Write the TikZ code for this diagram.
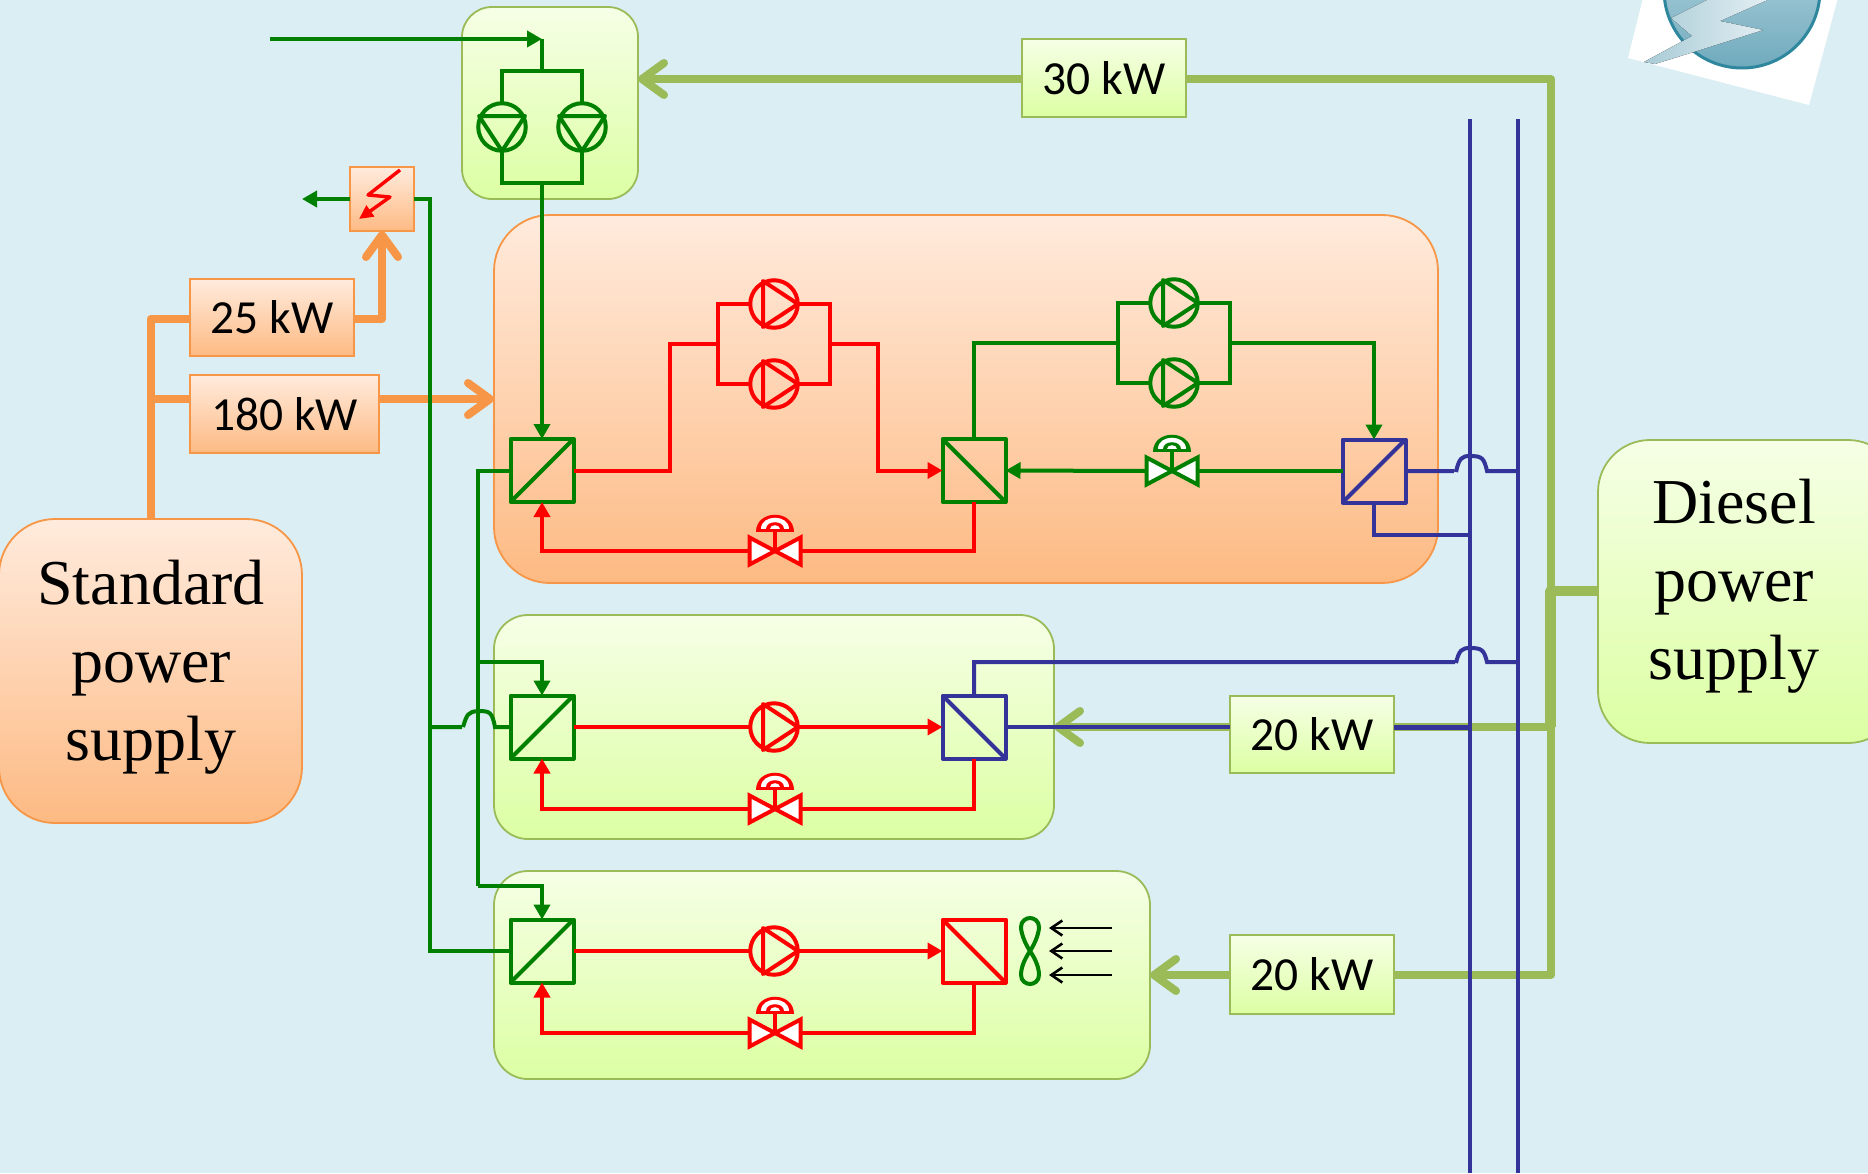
\documentclass[tikz,border=0pt]{standalone}
\usepackage{fontspec}
\setmainfont{Liberation Serif}
\newfontfamily\kwfont{Carlito}
\usetikzlibrary{arrows.meta,calc,shapes.geometric}
\definecolor{bgc}{HTML}{DBEEF4}
\definecolor{orl}{HTML}{F79646}
\definecolor{oli}{HTML}{9BBB59}
\definecolor{gnl}{HTML}{008000}
\definecolor{rdl}{HTML}{FF0000}
\definecolor{blu}{HTML}{333399}
\definecolor{otop}{HTML}{FFEBDD}
\definecolor{obot}{HTML}{FDBA83}
\definecolor{gtop}{HTML}{F6FFE6}
\definecolor{gbot}{HTML}{DCFFA3}
\definecolor{logotop}{HTML}{C4DEE7}
\definecolor{logobot}{HTML}{6FAABD}
\definecolor{logoedge}{HTML}{2F879E}
\definecolor{boltl}{HTML}{A8CBD6}
\definecolor{boltr}{HTML}{EEF5F8}
\tikzset{
  orpanel/.style={draw=orl,line width=1.8pt,top color=otop,bottom color=obot,inner sep=0pt,outer sep=0pt},
  grpanel/.style={draw=oli,line width=1.8pt,top color=gtop,bottom color=gbot,inner sep=0pt,outer sep=0pt},
  kwbox/.style={font=\kwfont\fontsize{47.5}{56}\selectfont,text=black},
  bigtext/.style={font=\fontsize{64}{78}\selectfont,align=center,text=black,inner sep=0pt},
  pipe/.style={line width=4pt,line join=miter},
  tipf/.style={-{Triangle[length=15pt,width=16pt]}},
  power/.style={line width=8pt,line join=round},
  tipo/.style={-{Straight Barb[length=22pt,width=32pt,round]}},
  hxnode/.style={draw=#1,line width=4pt,minimum size=63pt,inner sep=0pt,outer sep=0pt,line join=round},
  pumpnode/.style={draw=#1,circle,line width=4pt,minimum size=47.5pt,inner sep=0pt,outer sep=0pt},
  valvenode/.style={minimum width=52pt,minimum height=26pt,inner sep=0pt,outer sep=0pt},
}
\newcommand{\kwt}[1]{\raisebox{-1pt}{#1}}
\newcommand{\panelbox}[7]{%
  \pgfmathsetmacro\pw{#4-#2}\pgfmathsetmacro\ph{#5-#3}%
  \node[#6,minimum width=\pw pt,minimum height=\ph pt] (#1) at ({(#2+#4)/2},{(#3+#5)/2}) {#7};}
\newcommand{\pumpright}[4]{%
  \node[pumpnode=#4] (#1) at (#2,#3) {};
  \draw[#4,line width=4pt,line join=round] ([shift={(-11,-23)}]#1.center) -- ([shift={(-11,23)}]#1.center) -- ([shift={(24,0)}]#1.center) -- cycle;}
\newcommand{\pumpdown}[4]{%
  \node[pumpnode=#4] (#1) at (#2,#3) {};
  \draw[#4,line width=4pt,line join=round] ([shift={(-23,-11)}]#1.center) -- ([shift={(23,-11)}]#1.center) -- ([shift={(0,24)}]#1.center) -- cycle;}
\newcommand{\valveat}[4]{%
  \node[valvenode] (#1) at (#2,#3) {};
  \begin{scope}[shift={(#2,#3)}]
    \draw[#4,fill=white,line width=4pt,miter limit=10] (-25.5,-13.5) -- (0,0) -- (-25.5,13.5) -- cycle;
    \draw[#4,fill=white,line width=4pt,miter limit=10] (25.5,-13.5) -- (0,0) -- (25.5,13.5) -- cycle;
    \draw[#4,line width=4pt] (0,0) -- (0,-20);
    \fill[#4] (-19,-19) .. controls (-19,-42) and (19,-42) .. (19,-19) -- cycle;
    \fill[white] (-14,-22) .. controls (-14,-37) and (14,-37) .. (14,-22) -- cycle;
    \fill[#4] (-9,-22) .. controls (-9,-31) and (9,-31) .. (9,-22) -- cycle;
    \fill[white] (-5,-22) .. controls (-5,-27) and (5,-27) .. (5,-22) -- cycle;
  \end{scope}}
\begin{document}
\begin{tikzpicture}[x=1pt,y=-1pt]
\clip (0,0) rectangle (1868,1173);
\fill[bgc] (0,0) rectangle (1868,1173);
% logo
\fill[white] (1628,58) -- (1809,105) -- (1840,-10) -- (1645,-10) -- cycle;
\shade[top color=logotop,bottom color=logobot] (1742,-10) circle (78pt);
\draw[color=logoedge,line width=3pt] (1742,-10) circle (78pt);
\fill[left color=boltl,right color=boltr] (1644,62) -- (1692,36) -- (1671,18) -- (1707,0) -- (1790,-10) -- (1720,21) -- (1763,30) -- (1700,50) -- (1655,64) -- cycle;
% panels
\panelbox{ptop}{462}{7}{638}{199}{grpanel,rounded corners=30pt}{}
\panelbox{pmain}{494}{215}{1438}{583}{orpanel,rounded corners=56pt}{}
\panelbox{pmid}{494}{615}{1054}{839}{grpanel,rounded corners=34pt}{}
\panelbox{plow}{494}{871}{1150}{1079}{grpanel,rounded corners=34pt}{}
\panelbox{std}{-1}{519}{302}{823}{orpanel,rounded corners=56pt}{}
\panelbox{die}{1598}{440}{1900}{743}{grpanel,rounded corners=52pt}{}
\node[bigtext] (stdt) at (151,667) {Standard\\power\\supply};
\node[bigtext] (diet) at (1734,586) {Diesel\\power\\supply};
% power boxes
\panelbox{b25}{190}{279}{354}{356}{orpanel,kwbox}{\kwt{25 kW}}
\panelbox{b180}{190}{375}{379}{453}{orpanel,kwbox}{\kwt{180 kW}}
\panelbox{b30}{1022}{39}{1186}{117}{grpanel,kwbox}{\kwt{30 kW}}
\panelbox{b20a}{1230}{696}{1394}{773}{grpanel,kwbox}{\kwt{20 kW}}
\panelbox{b20b}{1230}{935}{1394}{1014}{grpanel,kwbox}{\kwt{20 kW}}
\panelbox{elec}{350}{167}{414}{231}{orpanel}{}
% orange power
\coordinate (ot) at (150.5,319);
\coordinate (om) at (150.5,399);
\draw[power,orl] (std.north) -- (ot) -- (b25.west |- ot);
\draw[power,orl] (om) -- (b180.west |- om);
\draw[power,orl,tipo] (b25.east |- ot) -| (elec.south);
\draw[power,orl,tipo] (b180.east |- om) -- (pmain.west |- om);
% olive power
\coordinate (oc) at (1551,79);
\coordinate (oj) at (1551,727);
\coordinate (ok) at (1550.5,591);
\coordinate (ol) at (1551,975);
\draw[power,oli,tipo] (b30.west |- oc) -- (ptop.east |- oc);
\draw[power,oli] (b30.east |- oc) -- (oc) -- (ol) -- (b20b.east |- ol);
\draw[power,oli,line width=10.5pt] (die.west |- ok) -- (ok) -- (oj -| ok);
\draw[power,oli] (oj) -- (b20a.east |- oj);
\draw[power,oli,tipo] (b20a.west |- oj) -- (pmid.east |- oj);
\draw[power,oli,tipo] (b20b.west |- ol) -- (plow.east |- ol);
% exchangers
\node[hxnode=gnl] (hxa) at (542,470.5) {};
\node[hxnode=gnl] (hxb) at (974,470.5) {};
\node[hxnode=blu] (hxc) at (1374,471) {};
\node[hxnode=gnl] (hxd) at (542,727) {};
\node[hxnode=blu] (hxe) at (974,727) {};
\node[hxnode=gnl] (hxf) at (542,951) {};
\node[hxnode=rdl] (hxg) at (974,951) {};
\foreach \n/\c in {hxa/gnl,hxc/blu,hxd/gnl,hxf/gnl} \draw[\c,line width=4pt] (\n.south west) -- (\n.north east);
\foreach \n/\c in {hxb/gnl,hxe/blu,hxg/rdl} \draw[\c,line width=4pt] (\n.north west) -- (\n.south east);
% pumps
\pumpdown{pa}{502}{127}{gnl}
\pumpdown{pb}{582}{127}{gnl}
\pumpright{pc}{774}{304}{rdl}
\pumpright{pd}{774}{384}{rdl}
\pumpright{pe}{1174}{303}{gnl}
\pumpright{pf}{1174}{383}{gnl}
\pumpright{pg}{774}{727}{rdl}
\pumpright{ph}{774}{951}{rdl}
% valves
\valveat{va}{775}{551}{rdl}
\valveat{vb}{1172}{471}{gnl}
\valveat{vc}{775}{809}{rdl}
\valveat{vd}{775}{1033}{rdl}
% cooling water top
\coordinate (gs) at (270,39);
\coordinate (gt) at (542,39);
\coordinate (gu) at (542,71);
\coordinate (gv) at (542,183);
\draw[pipe,gnl,tipf] (gs) -- (gt);
\draw[pipe,gnl] (gt) -- (gu);
\draw[pipe,gnl] (pa.north) |- (pb.north |- gu) -- (pb.north);
\draw[pipe,gnl] (pa.south) |- (pb.south |- gv) -- (pb.south);
\draw[pipe,gnl,tipf] (gv) -- (hxa.north);
% main red loop
\coordinate (ra) at (670,344);
\coordinate (rb) at (718,304);
\coordinate (rc) at (830,304);
\coordinate (rd) at (878,344);
\draw[pipe,rdl] (hxa.east) -| (ra) -- (rb |- ra);
\draw[pipe,rdl] (pc.west) -- (rb) -- (rb |- pd) -- (pd.west);
\draw[pipe,rdl] (pc.east) -- (rc) -- (rc |- pd) -- (pd.east);
\draw[pipe,rdl,tipf] (rc |- rd) -- (rd) |- (hxb.west);
\draw[pipe,rdl,tipf] (va.west) -| (hxa.south);
\draw[pipe,rdl] (va.east) -| (hxb.south);
% main green loop
\coordinate (ga) at (1118,303);
\coordinate (gb) at (1230,303);
\coordinate (gc) at (1118,343);
\coordinate (gd) at (1230,343);
\draw[pipe,gnl] (hxb.north) |- (gc);
\draw[pipe,gnl] (pe.west) -- (ga) -- (ga |- pf) -- (pf.west);
\draw[pipe,gnl] (pe.east) -- (gb) -- (gb |- pf) -- (pf.east);
\draw[pipe,gnl,tipf] (gd) -| (hxc.north);
\draw[pipe,gnl] (hxc.west) -- (vb.east);
\draw[pipe,gnl,tipf] (vb.west) -- (hxb.east);
% mid and low red loops
\draw[pipe,rdl] (hxd.east) -- (pg.west);
\draw[pipe,rdl,tipf] (pg.east) -- (hxe.west);
\draw[pipe,rdl,tipf] (vc.west) -| (hxd.south);
\draw[pipe,rdl] (vc.east) -| (hxe.south);
\draw[pipe,rdl] (hxf.east) -- (ph.west);
\draw[pipe,rdl,tipf] (ph.east) -- (hxg.west);
\draw[pipe,rdl,tipf] (vd.west) -| (hxf.south);
\draw[pipe,rdl] (vd.east) -| (hxg.south);
% left green
\coordinate (la) at (478,470.5);
\coordinate (lb) at (478,662);
\coordinate (lc) at (478,886);
\coordinate (ld) at (430,199);
\coordinate (le) at (430,951);
\coordinate (lf) at (302,199);
\draw[pipe,gnl] (hxa.west) -- (la) -- (lc);
\draw[pipe,gnl,tipf] (lb) -| (hxd.north);
\draw[pipe,gnl,tipf] (lc) -| (hxf.north);
\draw[pipe,gnl] (elec.east |- ld) -- (ld) -- (le) -- (hxf.west);
\draw[pipe,gnl,tipf] (elec.west |- ld) -- (lf);
\draw[pipe,gnl] (le |- hxd) -- (462,727) (463,727) .. controls (467,714) and (468,712) .. (478,711) .. controls (490,711) and (492,712) .. (495,727) -- (hxd.west);
% electric bolt
\coordinate (ea) at (400,170);
\coordinate (eb) at (368,195);
\coordinate (ec) at (390,197);
\coordinate (ed) at (359,219);
\draw[rdl,line width=3.4pt,line join=round,-{Triangle[length=14pt,width=13pt]}] (ea) -- (eb) -- (ec) -- (ed);
% fan
\coordinate (fa) at (1030,918);
\coordinate (fb) at (1030,951);
\coordinate (fc) at (1030,984);
\draw[gnl,line width=4pt] (fb) .. controls (1036,942) and (1039,932) .. (1039,927) .. controls (1039,921) and (1034,918) .. (fa) .. controls (1026,918) and (1021,921) .. (1021,927) .. controls (1021,932) and (1024,942) .. (fb) .. controls (1036,960) and (1039,968) .. (1039,975) .. controls (1039,981) and (1034,984) .. (fc) .. controls (1026,984) and (1021,981) .. (1021,975) .. controls (1021,968) and (1024,960) .. (fb);
\foreach \yy/\nm in {928/aa,951/ab,975/ac} {
  \coordinate (\nm s) at (1112,\yy);
  \coordinate (\nm e) at (1049,\yy);
  \draw[black,line width=2.6pt,-{Straight Barb[length=11pt,width=15pt]}] (\nm s) -- (\nm e);
}
% blue buses
\coordinate (ba) at (1470,119);
\coordinate (bb) at (1470,1173);
\coordinate (bc) at (1518,119);
\coordinate (bd) at (1518,1173);
\coordinate (be) at (1374,535);
\draw[pipe,blu] (hxc.south) |- (ba |- be);
\draw[pipe,blu] (hxc.east) -- (1454,471) (1456,472) .. controls (1459,458) and (1462,456) .. (1470,456) .. controls (1482,456) and (1484,458) .. (1487,471) -- (bc |- hxc);
\draw[pipe,blu] (hxe.north) |- (1455,662) (1456,663) .. controls (1459,650) and (1462,648) .. (1470,648) .. controls (1482,648) and (1484,650) .. (1487,662) -- (bc |- 0,662);
\draw[pipe,blu,line width=4.6pt] (hxe.east) -- (b20a.west |- hxe);
\draw[pipe,blu,line width=5pt] (b20a.east |- oj) -- (ba |- oj);
\draw[pipe,blu] (ba) -- (bb);
\draw[pipe,blu] (bc) -- (bd);
\end{tikzpicture}
\end{document}
